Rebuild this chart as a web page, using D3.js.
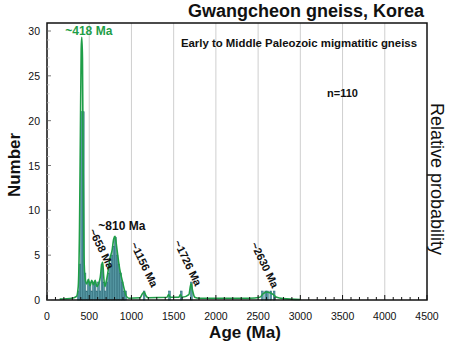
<!DOCTYPE html>
<html><head><meta charset="utf-8">
<script src="https://cdn.jsdelivr.net/npm/d3@7"></script>
<style>body{margin:0;background:#fff}svg{display:block;font-family:"Liberation Sans",Arial,sans-serif}</style>
</head><body><svg id="c" width="450" height="344"></svg>
<script>
// ---- data ----
const binWidth = 20;
const binStarts = [360,380,400,420,440,460,480,500,520,540,560,580,600,620,640,660,680,700,720,740,760,780,800,820,840,860,880,900,920,1140,1440,1580,1700,2540,2580,2600,2640,2680];
const binCounts = [1,4,21,21,3,1,2,2,1,2,2,1,2,1,4,2,1,2,3,4,5,6,7,5,4,3,2,1,1,1,1,1,2,1,1,1,1,1];
const curveAges = [150,300,350,370,385,395,405,412,420,428,438,450,470,490,510,530,550,570,590,610,630,650,660,670,685,700,720,745,770,790,805,820,840,860,880,900,920,940,970,1100,1130,1150,1170,1200,1420,1440,1460,1560,1580,1600,1680,1705,1725,1750,1800,2400,2520,2560,2600,2640,2680,2720,2800,3000];
const curveVals = [0.1,0.2,0.4,1.5,8,18,28,29.3,27,15,5,2.5,1.8,2.3,1.6,2.2,1.7,2.2,1.5,1.8,2.5,4.0,4.2,2.8,1.5,2.0,3.0,4.6,5.5,6.8,7.1,6.3,4.8,3.5,2.6,1.8,1.0,0.4,0.2,0.25,0.7,0.9,0.5,0.25,0.3,0.6,0.3,0.3,0.6,0.3,0.6,1.8,1.0,0.3,0.2,0.2,0.3,0.7,0.9,0.8,0.6,0.3,0.15,0.05];
const xTicks = [0,500,1000,1500,2000,2500,3000,3500,4000,4500];
const yTicks = [0,5,10,15,20,25,30];
const peakLabels = [
  {text:"~658 Ma", age:495, val:7.7},
  {text:"~1156 Ma", age:985, val:6.2},
  {text:"~1726 Ma", age:1500, val:6.4},
  {text:"~2630 Ma", age:2410, val:6.2}
];

// ---- scales ----
const svg = d3.select("#c");
const x = d3.scaleLinear().domain([0,4500]).range([47,427]);
const y = d3.scaleLinear().domain([0,30]).range([300,31]);
const plotTop = 23;

// grid
svg.append("g").selectAll("line").data(xTicks.filter(t=>t>0&&t<4500)).join("line")
  .attr("x1",d=>x(d)).attr("x2",d=>x(d)).attr("y1",plotTop).attr("y2",y(0))
  .attr("stroke","#cfcfcf").attr("stroke-width",1);

// bars
svg.append("g").selectAll("rect").data(binStarts.map((s,i)=>({s,c:binCounts[i]}))).join("rect")
  .attr("x",d=>x(d.s)).attr("width",d=>x(d.s+binWidth)-x(d.s))
  .attr("y",d=>y(d.c)).attr("height",d=>y(0)-y(d.c))
  .attr("fill","#5b9ca8").attr("stroke","#2f6f7c").attr("stroke-width",0.6);

// curve
const pts = curveAges.map((a,i)=>[a,curveVals[i]]);
svg.append("path").datum(pts)
  .attr("d",d3.line().x(d=>x(d[0])).y(d=>y(d[1])).curve(d3.curveMonotoneX))
  .attr("fill","none").attr("stroke","#1f9e48").attr("stroke-width",1.6);

// frame
svg.append("rect").attr("x",x(0)).attr("y",plotTop).attr("width",x(4500)-x(0)).attr("height",y(0)-plotTop)
  .attr("fill","none").attr("stroke","#111").attr("stroke-width",1.5);

// x ticks
const minorX = d3.range(0,4501,100);
svg.append("g").selectAll("line").data(minorX).join("line")
  .attr("x1",d=>x(d)).attr("x2",d=>x(d)).attr("y1",y(0)).attr("y2",d=>y(0)-(d%500===0?5:3))
  .attr("stroke","#111").attr("stroke-width",1);
svg.append("g").selectAll("text").data(xTicks).join("text")
  .attr("x",d=>x(d)).attr("y",320).attr("text-anchor","middle")
  .attr("font-size",10.5).attr("fill","#111").text(d=>d);

// y ticks
svg.append("g").selectAll("line").data(d3.range(0,31,1)).join("line")
  .attr("x1",x(0)).attr("x2",d=>x(0)+(d%5===0?4:2.5)).attr("y1",d=>y(d)).attr("y2",d=>y(d))
  .attr("stroke",d=>d%5===0?"#555":"#bbb").attr("stroke-width",0.8);
svg.append("g").selectAll("text").data(yTicks).join("text")
  .attr("x",40).attr("y",d=>y(d)+4).attr("text-anchor","end")
  .attr("font-size",10.5).attr("fill","#111").text(d=>d);

// titles
svg.append("text").attr("x",424).attr("y",17).attr("text-anchor","end")
  .attr("font-size",18).attr("font-weight","bold").attr("fill","#111").text("Gwangcheon gneiss, Korea");
svg.append("text").attr("x",417).attr("y",47).attr("text-anchor","end")
  .attr("font-size",11.4).attr("font-weight","bold").attr("fill","#111").text("Early to Middle Paleozoic migmatitic gneiss");
svg.append("text").attr("x",327).attr("y",97)
  .attr("font-size",11).attr("font-weight","bold").attr("fill","#111").text("n=110");
svg.append("text").attr("x",245).attr("y",338).attr("text-anchor","middle")
  .attr("font-size",17).attr("font-weight","bold").attr("fill","#111").text("Age (Ma)");
svg.append("text").attr("transform","translate(20,165) rotate(-90)").attr("text-anchor","middle")
  .attr("font-size",17).attr("font-weight","bold").attr("fill","#111").text("Number");
svg.append("text").attr("transform","translate(431,179) rotate(90)").attr("text-anchor","middle")
  .attr("font-size",18).attr("fill","#111").text("Relative probability");

// peak labels
svg.append("text").attr("x",x(495)).attr("y",35).attr("text-anchor","middle")
  .attr("font-size",12).attr("font-weight","bold").attr("fill","#1f9e48").text("~418 Ma");
svg.append("text").attr("x",x(608)).attr("y",230)
  .attr("font-size",12).attr("font-weight","bold").attr("fill","#111").text("~810 Ma");
svg.append("g").selectAll("text").data(peakLabels).join("text")
  .attr("transform",d=>`translate(${x(d.age)},${y(d.val)}) rotate(64)`)
  .attr("font-size",11).attr("font-weight","bold").attr("fill","#111").text(d=>d.text);
</script></body></html>
